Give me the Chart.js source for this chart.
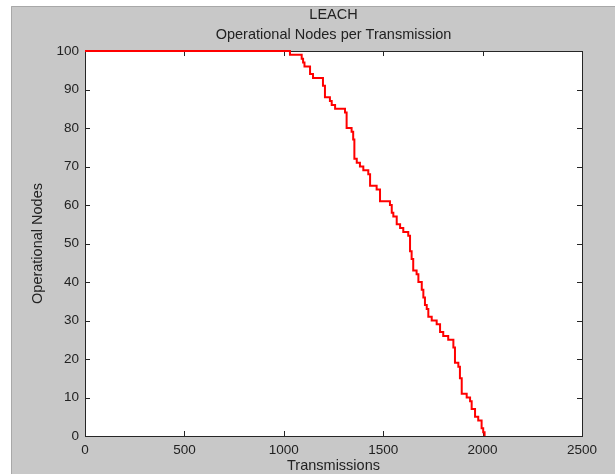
<!DOCTYPE html>
<html>
<head>
<meta charset="utf-8">
<script src="https://cdn.jsdelivr.net/npm/chart.js@4/dist/chart.umd.min.js"></script>
<style>
  html, body { margin: 0; padding: 0; background: #fff; }
  #wrap { position: relative; width: 615px; height: 474px; }
  canvas { position: absolute; left: 0; top: 0; }
</style>
</head>
<body>
<div id="wrap"><canvas id="nodesChart" width="615" height="474"></canvas></div>
<script>
// LEACH - operational nodes vs transmissions
// each point: the count drops to this value at this transmission
var transmissions = [0, 1031, 1090, 1097, 1104, 1132, 1147, 1197, 1207, 1232,
  1241, 1258, 1308, 1316, 1341, 1349, 1355, 1367, 1383, 1400,
  1425, 1434, 1467, 1484, 1534, 1543, 1551, 1568, 1585, 1601,
  1626, 1635, 1643, 1651, 1668, 1677, 1694, 1702, 1710, 1719,
  1727, 1744, 1769, 1786, 1802, 1827, 1853, 1861, 1878, 1886,
  1895, 1920, 1937, 1945, 1962, 1978, 1995, 2003, 2010];
var nodes = [100, 99, 98, 97, 96, 94, 93, 91, 88, 87,
  86, 85, 84, 80, 79, 77, 72, 71, 70, 69,
  68, 65, 64, 61, 60, 58, 57, 55, 54, 53,
  52, 48, 46, 43, 42, 40, 38, 36, 34, 33,
  31, 30, 29, 27, 26, 25, 23, 19, 18, 15,
  11, 10, 9, 7, 5, 4, 2, 1, 0];
var xTicks = [0, 500, 1000, 1500, 2000, 2500];
var yTicks = [0, 10, 20, 30, 40, 50, 60, 70, 80, 90, 100];

var FONT = "'Liberation Sans', Arial, sans-serif";
var INK = '#222222';

// gray figure background + matlab style box with inward ticks
var matlabFrame = {
  id: 'matlabFrame',
  beforeDraw: function (chart) {
    var c = chart.ctx;
    c.save();
    c.fillStyle = '#c8c8c8';
    c.fillRect(11, 6, chart.width - 11, chart.height - 6);
    c.strokeStyle = '#a8a8a8';
    c.lineWidth = 1;
    c.beginPath();
    c.moveTo(11.5, chart.height);
    c.lineTo(11.5, 6.5);
    c.lineTo(chart.width, 6.5);
    c.stroke();
    var a = chart.chartArea;
    c.fillStyle = '#ffffff';
    c.fillRect(a.left, a.top, a.right - a.left, a.bottom - a.top);
    c.restore();
  },
  beforeDatasetsDraw: function (chart) {
    var c = chart.ctx, a = chart.chartArea;
    var xs = chart.scales.x, ys = chart.scales.y;
    var len = 5;
    c.save();
    c.strokeStyle = '#262626';
    c.lineWidth = 1;
    c.strokeRect(Math.round(a.left) + 0.5, Math.round(a.top) + 0.5,
      Math.round(a.right - a.left), Math.round(a.bottom - a.top));
    c.beginPath();
    xTicks.forEach(function (v) {
      var px = Math.round(xs.getPixelForValue(v)) + 0.5;
      c.moveTo(px, a.bottom); c.lineTo(px, a.bottom - len);
      c.moveTo(px, a.top); c.lineTo(px, a.top + len);
    });
    yTicks.forEach(function (v) {
      var py = Math.round(ys.getPixelForValue(v)) + 0.5;
      c.moveTo(a.left, py); c.lineTo(a.left + len, py);
      c.moveTo(a.right, py); c.lineTo(a.right - len, py);
    });
    c.stroke();
    c.restore();
  }
};

var points = transmissions.map(function (t, i) { return { x: t, y: nodes[i] }; });
var plain = function (v) { return String(v); };

new Chart(document.getElementById('nodesChart'), {
  type: 'line',
  data: {
    datasets: [{
      data: points,
      borderColor: '#ff0000',
      borderWidth: 2,
      pointRadius: 0,
      stepped: true,
      fill: false,
      clip: false
    }]
  },
  options: {
    responsive: false,
    animation: false,
    events: [],
    layout: { padding: { left: 0, right: 33, top: 0, bottom: 0 } },
    plugins: {
      legend: { display: false },
      tooltip: { enabled: false },
      title: {
        display: true,
        fullSize: false,
        text: ['LEACH', 'Operational Nodes per Transmission'],
        color: INK,
        font: { family: FONT, size: 14.5, weight: 'normal', lineHeight: 1.38 },
        padding: { top: 5, bottom: 6 }
      }
    },
    scales: {
      x: {
        type: 'linear',
        min: 0, max: 2500,
        afterBuildTicks: function (s) { s.ticks = xTicks.map(function (v) { return { value: v }; }); },
        afterFit: function (s) { s.height = 38; },
        grid: { display: false, drawTicks: false },
        border: { display: false },
        ticks: { color: INK, font: { family: FONT, size: 13.5 }, padding: 6, maxRotation: 0, callback: plain },
        title: {
          display: true, text: 'Transmissions', color: INK,
          font: { family: FONT, size: 14.5, lineHeight: 1.1 },
          padding: { top: 0, bottom: 0 }
        }
      },
      y: {
        min: 0, max: 100,
        afterBuildTicks: function (s) { s.ticks = yTicks.map(function (v) { return { value: v }; }); },
        afterFit: function (s) { s.width = 85; },
        grid: { display: false, drawTicks: false },
        border: { display: false },
        ticks: { color: INK, font: { family: FONT, size: 13.5 }, padding: 6, callback: plain },
        title: {
          display: true, text: 'Operational Nodes', color: INK,
          font: { family: FONT, size: 14.5, lineHeight: 1.1 },
          padding: { top: 30, bottom: 0 }
        }
      }
    }
  },
  plugins: [matlabFrame]
});
</script>
</body>
</html>
